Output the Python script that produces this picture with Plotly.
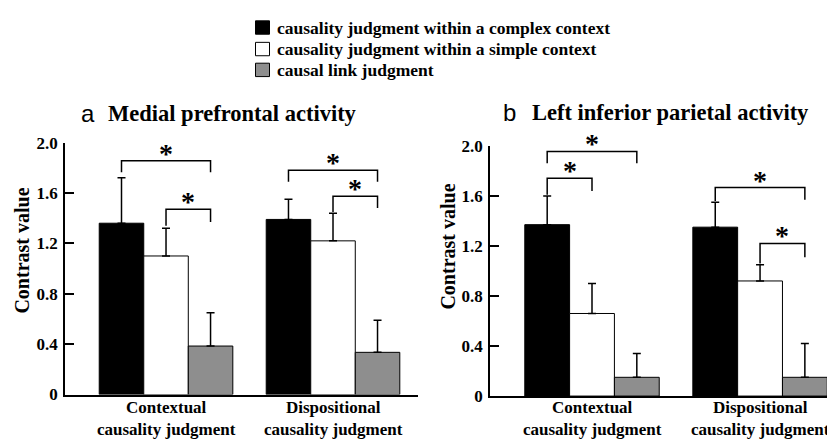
import plotly.graph_objects as go

# The page body has a default 8px margin, so the figure is drawn 8px in from the window edge.
OFF = 8
WIN_W, WIN_H = 835, 445
W, H = WIN_W - OFF, WIN_H - OFF

def px(rx):
    return (rx - OFF) / W

def py(ry):
    return 1 - (ry - OFF) / H

categories = ["Contextual<br>causality judgment", "Dispositional<br>causality judgment"]
series_names = [
    "causality judgment within a complex context",
    "causality judgment within a simple context",
    "causal link judgment",
]
colors = ["#000000", "#ffffff", "#8e8e8e"]

# Panel a: Medial prefrontal activity
a_complex = [1.36, 1.39]
a_simple = [1.10, 1.22]
a_link = [0.385, 0.335]
a_complex_err = [0.36, 0.16]
a_simple_err = [0.22, 0.22]
a_link_err = [0.265, 0.255]

# Panel b: Left inferior parietal activity
b_complex = [1.37, 1.35]
b_simple = [0.66, 0.92]
b_link = [0.15, 0.15]
b_complex_err = [0.23, 0.20]
b_simple_err = [0.24, 0.13]
b_link_err = [0.19, 0.27]

y_tickvals = [0, 0.4, 0.8, 1.2, 1.6, 2.0]
y_ticktext = ["0", "0.4", "0.8", "1.2", "1.6", "2.0"]

# significance brackets: (group, bar_from, bar_to, top, left_leg_bottom, right_leg_bottom)
a_brackets = [
    (0, 0, 2, 1.856, 1.765, 1.765),
    (0, 1, 2, 1.47, 1.34, 1.37),
    (1, 0, 2, 1.78, 1.69, 1.69),
    (1, 1, 2, 1.575, 1.45, 1.48),
]
b_brackets = [
    (0, 0, 2, 1.955, 1.86, 1.86),
    (0, 0, 1, 1.74, 1.61, 1.64),
    (1, 0, 2, 1.667, 1.56, 1.57),
    (1, 1, 2, 1.22, 1.06, 1.11),
]

BARGAP = 0.2
SERIF = "Liberation Serif"

fig = go.Figure()

panels = [
    ("x", "y", [a_complex, a_simple, a_link], [a_complex_err, a_simple_err, a_link_err], a_brackets),
    ("x2", "y2", [b_complex, b_simple, b_link], [b_complex_err, b_simple_err, b_link_err], b_brackets),
]

xpos = [0, 1]
for xa, ya, vals, errs, brackets in panels:
    for k in range(3):
        fig.add_trace(go.Bar(
            x=xpos, y=vals[k], name=series_names[k],
            marker=dict(color=colors[k], line=dict(color="black", width=1)),
            error_y=dict(type="data", symmetric=False, array=errs[k], arrayminus=[0, 0],
                         color="black", thickness=1.5, width=4),
            xaxis=xa, yaxis=ya, showlegend=False,
        ))
    gw = 1 - BARGAP
    for (g, i, j, top, lb, rb) in brackets:
        x0 = g + (i - 1) * gw / 3
        x1 = g + (j - 1) * gw / 3
        fig.add_trace(go.Scatter(
            x=[x0, x0, x1, x1], y=[lb, top, top, rb], mode="lines",
            line=dict(color="black", width=1.5), xaxis=xa, yaxis=ya,
            showlegend=False, hoverinfo="skip", cliponaxis=False,
        ))
        fig.add_annotation(
            x=(x0 + x1) / 2, y=top, xref=xa, yref=ya, text="<b>*</b>",
            showarrow=False, yanchor="bottom", yshift=-10,
            font=dict(family=SERIF, size=28, color="black"),
        )
    # category labels (two lines each)
    for g, cat in zip(xpos, categories):
        fig.add_annotation(
            x=g, y=py(427.3), xref=xa, yref="paper", text=f"<b>{cat}</b>",
            showarrow=False, xanchor="center", yanchor="middle",
            font=dict(family=SERIF, size=17, color="black"),
        )

axis_font = dict(family=SERIF, size=17, color="black")

def yaxis_cfg(domain, anchor):
    return dict(
        domain=domain, anchor=anchor, range=[0, 2.0],
        tickvals=y_tickvals, ticktext=[f"<b>{t}</b>" for t in y_ticktext],
        ticks="inside", ticklen=9, tickwidth=1.5, tickcolor="black",
        showline=True, linecolor="black", linewidth=1.5, showgrid=False, zeroline=False,
        tickfont=axis_font, ticklabelstandoff=2,
    )

def xaxis_cfg(domain, anchor, rng):
    return dict(
        domain=domain, anchor=anchor, range=rng,
        showticklabels=False, ticks="",
        showline=True, linecolor="black", linewidth=1.5, showgrid=False, zeroline=False,
    )

fig.update_layout(
    width=W, height=H, margin=dict(l=0, r=0, t=0, b=0),
    plot_bgcolor="white", paper_bgcolor="white",
    barmode="group", bargap=BARGAP, bargroupgap=0,
    xaxis=xaxis_cfg([px(65), px(418)], "y", [-0.605, 1.509]),
    yaxis=yaxis_cfg([py(402.7), py(139.3)], "x"),
    xaxis2=xaxis_cfg([px(490), 1.0], "y2", [-0.607, 1.446]),
    yaxis2=yaxis_cfg([py(404.3), py(142.7)], "x2"),
    showlegend=False,
)

# y-axis titles
for rx, ry in [(21.7, 252.5), (448.5, 247.5)]:
    fig.add_annotation(x=px(rx), y=py(ry), xref="paper", yref="paper", text="<b>Contrast value</b>",
                       textangle=-90, showarrow=False, xanchor="center", yanchor="middle",
                       font=dict(family=SERIF, size=20, color="black"))

# legend (drawn manually)
legend_rows = [19, 41.5, 63.3]
for name, col, ry in zip(series_names, colors, legend_rows):
    fig.add_shape(type="rect", xref="paper", yref="paper",
                  x0=px(255.5), x1=px(269.5), y0=py(ry + 7), y1=py(ry - 7),
                  fillcolor=col, line=dict(color="black", width=1))
    fig.add_annotation(x=px(275), y=py(ry), xref="paper", yref="paper", text=f"<b>{name}</b>",
                       showarrow=False, xanchor="left", yanchor="middle",
                       font=dict(family=SERIF, size=17.5, color="black"))

# Panel titles
titles = [
    (79, 109, "a", 106, "Medial prefrontal activity"),
    (501, 108, "b", 530, "Left inferior parietal activity"),
]
for lx, ly, letter, tx, text in titles:
    fig.add_annotation(x=px(lx), y=py(ly), xref="paper", yref="paper", text=letter,
                       showarrow=False, xanchor="left", yanchor="middle",
                       font=dict(family="Liberation Sans", size=24, color="black"))
    fig.add_annotation(x=px(tx), y=py(ly), xref="paper", yref="paper", text=f"<b>{text}</b>",
                       showarrow=False, xanchor="left", yanchor="middle",
                       font=dict(family=SERIF, size=22.5, color="black"))

fig.write_html("out.html")
